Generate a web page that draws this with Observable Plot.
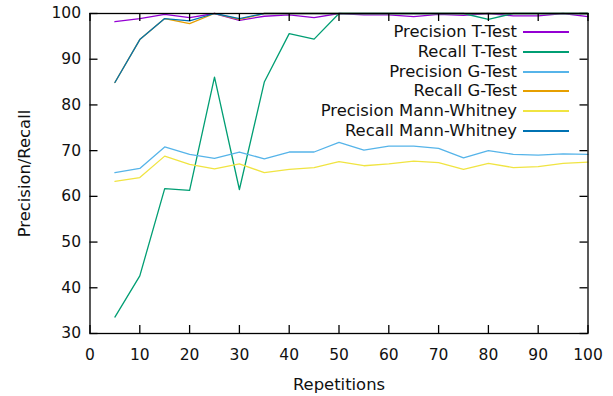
<!DOCTYPE html>
<html>
<head>
<meta charset="utf-8">
<script src="https://cdn.jsdelivr.net/npm/d3@7"></script>
<script src="https://cdn.jsdelivr.net/npm/@observablehq/plot@0.6"></script>
<style>
  html, body { margin: 0; padding: 0; background: #fff; }
  #wrap { position: relative; width: 613px; height: 396px; font-family: "DejaVu Sans", sans-serif; }
  .lgtext { position: absolute; right: 96px; height: 20px; line-height: 20px; font-size: 16.4px; color: #111; white-space: nowrap; text-align: right; }
  .lgsw { position: absolute; left: 523px; width: 46px; height: 2px; }
</style>
</head>
<body>
<div id="wrap"></div>
<script>
const repetitions = [5,10,15,20,25,30,35,40,45,50,55,60,65,70,75,80,85,90,95,100];
const seriesNames = ["Precision T-Test","Recall T-Test","Precision G-Test","Recall G-Test","Precision Mann-Whitney","Recall Mann-Whitney"];
const seriesColors = ["#9400d3","#009e73","#56b4e9","#e69f00","#f0e442","#0072b2"];
const precisionTTest = [98.2,98.9,99.8,99.1,100,98.5,99.4,99.7,99.1,100,99.7,99.7,99.3,99.8,99.6,100,99.5,99.5,100,99.3];
const recallTTest    = [33.6,42.6,61.7,61.3,86.1,61.5,85.0,95.6,94.4,100,100,100,100,100,100,98.7,100,100,100,100];
const precisionGTest = [65.2,66.1,70.8,69.2,68.3,69.7,68.2,69.7,69.7,71.8,70.1,71.0,71.0,70.5,68.4,70.0,69.2,69.0,69.3,69.2];
const recallGTest    = [84.9,94.3,98.9,97.8,100,98.7,100,100,100,100,100,100,100,100,100,100,100,100,100,100];
const precisionMW    = [63.3,64.1,68.8,67.0,66.0,67.1,65.2,65.9,66.3,67.6,66.7,67.1,67.7,67.4,65.9,67.2,66.3,66.5,67.2,67.5];
const recallMW       = [84.9,94.3,98.9,98.4,100,98.9,100,100,100,100,100,100,100,100,100,100,100,100,100,100];
const xTicks = [0,10,20,30,40,50,60,70,80,90,100];
const yTicks = [30,40,50,60,70,80,90,100];
const xLabel = "Repetitions";
const yLabel = "Precision/Recall";

const allSeries = [precisionTTest, recallTTest, precisionGTest, recallGTest, precisionMW, recallMW];
const rows = [];
allSeries.forEach((vals, s) => vals.forEach((v, i) => rows.push({series: seriesNames[s], x: repetitions[i], y: v})));

const W = 613, H = 396, mL = 89.5, mR = 25.5, mT = 13, mB = 63, tick = 8;
const innerW = W - mL - mR, innerH = H - mT - mB;

const chart = Plot.plot({
  width: W,
  height: H,
  marginLeft: mL,
  marginRight: mR,
  marginTop: mT,
  marginBottom: mB,
  style: {fontFamily: "DejaVu Sans, sans-serif", fontSize: "15.5px", color: "#111", background: "#fff"},
  x: {domain: [0, 100]},
  y: {domain: [30, 100]},
  color: {domain: seriesNames, range: seriesColors},
  marks: [
    ...seriesNames.map(name => Plot.line(rows.filter(r => r.series === name), {x: "x", y: "y", stroke: "series", strokeWidth: 1.3})),
    Plot.frame({stroke: "#000", strokeWidth: 1.3}),
    Plot.ruleX(xTicks, {x: d => d, insetTop: innerH - tick, stroke: "#000", strokeWidth: 1.3}),
    Plot.ruleX(xTicks, {x: d => d, insetBottom: innerH - tick, stroke: "#000", strokeWidth: 1.3}),
    Plot.ruleY(yTicks, {y: d => d, insetRight: innerW - tick, stroke: "#000", strokeWidth: 1.3}),
    Plot.ruleY(yTicks, {y: d => d, insetLeft: innerW - tick, stroke: "#000", strokeWidth: 1.3}),
    Plot.axisX(xTicks, {anchor: "bottom", tickSize: 0, tickPadding: 15, fill: "#111", label: null}),
    Plot.axisY(yTicks, {anchor: "left", tickSize: 0, tickPadding: 9, fill: "#111", label: null}),
    Plot.text([xLabel], {frameAnchor: "bottom", textAnchor: "middle", text: d => d, dy: 56, fontSize: 16.4, fill: "#111"}),
    Plot.text([yLabel], {frameAnchor: "left", textAnchor: "middle", lineAnchor: "middle", text: d => d, dx: -65.5, rotate: -90, fontSize: 16.4, fill: "#111"})
  ]
});

const wrap = document.getElementById("wrap");
wrap.appendChild(chart);
seriesNames.forEach((name, i) => {
  const center = 32.3 + 19.65 * i;
  const t = document.createElement("div");
  t.className = "lgtext";
  t.style.top = (center - 10) + "px";
  t.textContent = name;
  const sw = document.createElement("div");
  sw.className = "lgsw";
  sw.style.top = (Math.round(center) - 1) + "px";
  sw.style.background = seriesColors[i];
  wrap.appendChild(t);
  wrap.appendChild(sw);
});
</script>
</body>
</html>
